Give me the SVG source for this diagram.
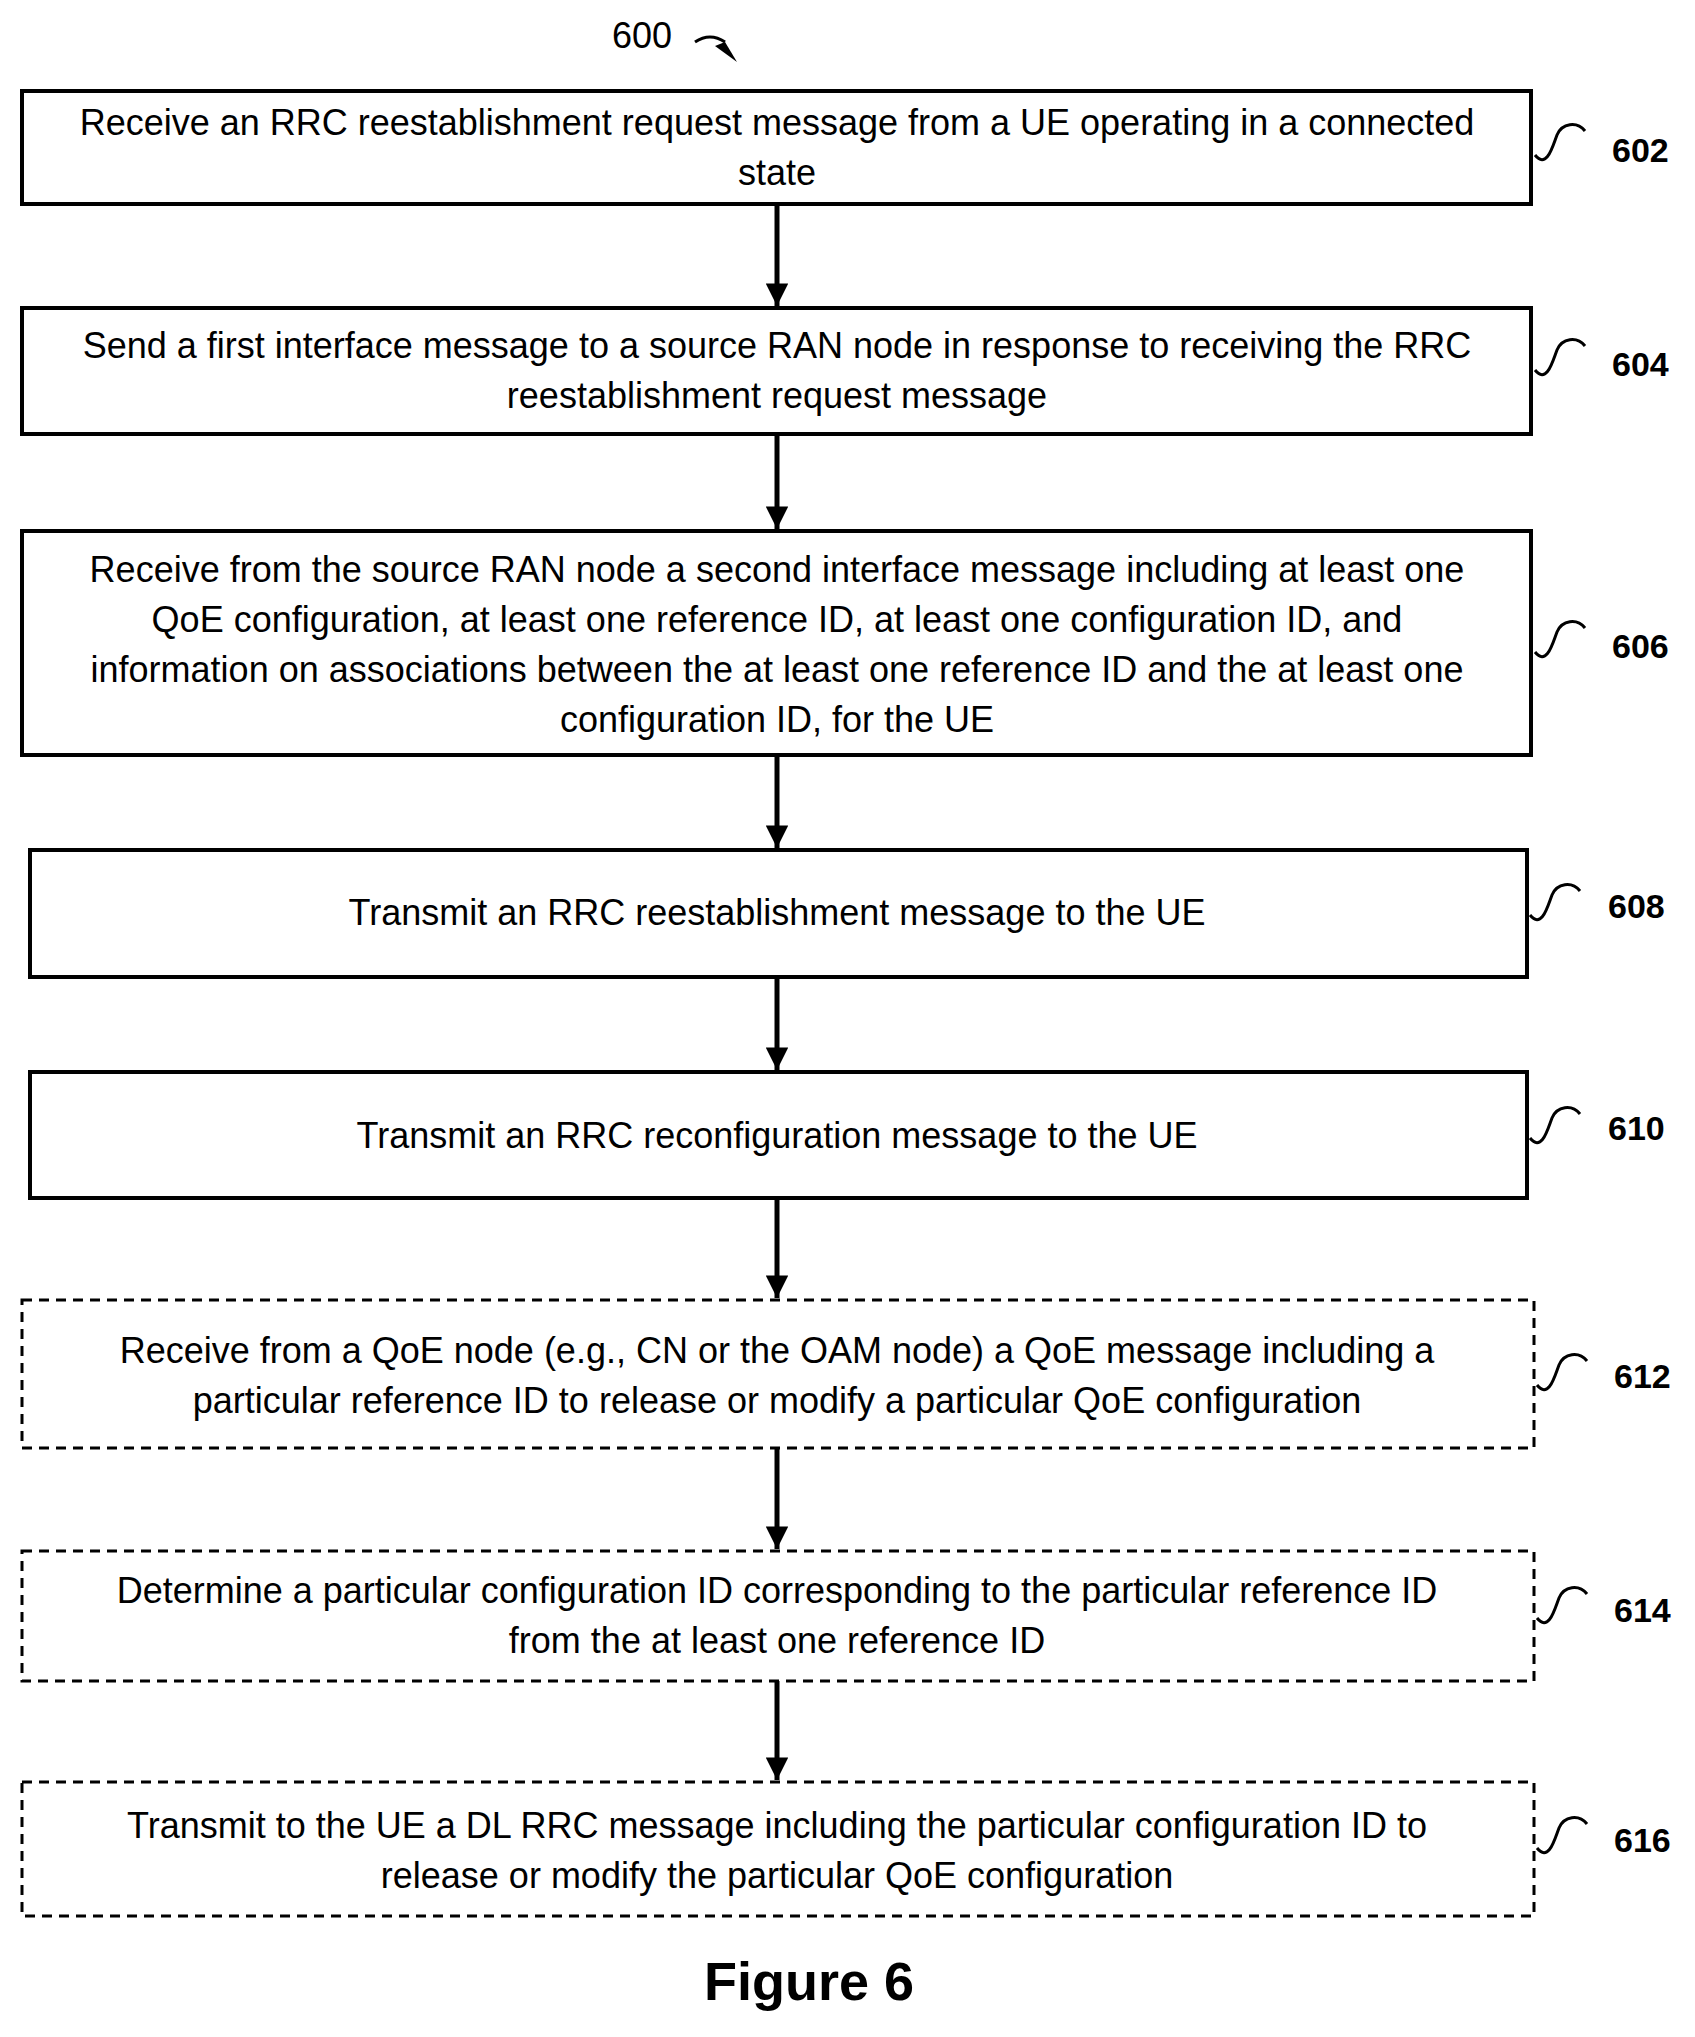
<svg xmlns="http://www.w3.org/2000/svg" width="1695" height="2037" viewBox="0 0 1695 2037">
<style>
text{font-family:"Liberation Sans","Open Sans",sans-serif;fill:#000}
.t{font-size:36px;text-anchor:middle}
.n{font-size:34px;font-weight:bold}
.b{fill:#fff;stroke:#000;stroke-width:4}
.d{fill:#fff;stroke:#000;stroke-width:3;stroke-dasharray:10 7}
.c{stroke:#000;stroke-width:5;fill:none}
.s{stroke:#000;stroke-width:3;fill:none}
</style>
<defs><marker id="a" viewBox="0 0 10 10" refX="10" refY="5" markerWidth="5" markerHeight="4.5" orient="auto" markerUnits="strokeWidth"><path d="M0,0L10,5L0,10z"/></marker></defs>
<rect width="1695" height="2037" fill="#fff"/>
<g id="label600"><text x="612" y="48" style="font-size:36px">600</text><path d="M695,42 q15,-10 30,0" class="s"/><path d="M725,42 l-10,4 l22,16 z"/></g>
<g id="connectors">
<line x1="777" y1="204" x2="777" y2="306" class="c" marker-end="url(#a)"/>
<line x1="777" y1="434" x2="777" y2="529" class="c" marker-end="url(#a)"/>
<line x1="777" y1="755" x2="777" y2="848" class="c" marker-end="url(#a)"/>
<line x1="777" y1="977" x2="777" y2="1070" class="c" marker-end="url(#a)"/>
<line x1="777" y1="1198" x2="777" y2="1298" class="c" marker-end="url(#a)"/>
<line x1="777" y1="1448" x2="777" y2="1549" class="c" marker-end="url(#a)"/>
<line x1="777" y1="1681" x2="777" y2="1780" class="c" marker-end="url(#a)"/>
</g>
<g id="n602"><rect x="22" y="91" width="1509" height="113" class="b"/><text class="t" x="777" y="135">Receive an RRC reestablishment request message from a UE operating in a connected</text><text class="t" x="777" y="185">state</text><path d="M1535,155 c12,15 18,-10 22,-20 c5,-12 20,-14 28,-4" class="s"/><text x="1612" y="162" class="n">602</text></g>
<g id="n604"><rect x="22" y="308" width="1509" height="126" class="b"/><text class="t" x="777" y="358">Send a first interface message to a source RAN node in response to receiving the RRC</text><text class="t" x="777" y="408">reestablishment request message</text><path d="M1535,370 c12,15 18,-10 22,-20 c5,-12 20,-14 28,-4" class="s"/><text x="1612" y="376" class="n">604</text></g>
<g id="n606"><rect x="22" y="531" width="1509" height="224" class="b"/><text class="t" x="777" y="582">Receive from the source RAN node a second interface message including at least one</text><text class="t" x="777" y="632">QoE configuration, at least one reference ID, at least one configuration ID, and</text><text class="t" x="777" y="682">information on associations between the at least one reference ID and the at least one</text><text class="t" x="777" y="732">configuration ID, for the UE</text><path d="M1535,652 c12,15 18,-10 22,-20 c5,-12 20,-14 28,-4" class="s"/><text x="1612" y="658" class="n">606</text></g>
<g id="n608"><rect x="30" y="850" width="1497" height="127" class="b"/><text class="t" x="777" y="925">Transmit an RRC reestablishment message to the UE</text><path d="M1530,915 c12,15 18,-10 22,-20 c5,-12 20,-14 28,-4" class="s"/><text x="1608" y="918" class="n">608</text></g>
<g id="n610"><rect x="30" y="1072" width="1497" height="126" class="b"/><text class="t" x="777" y="1148">Transmit an RRC reconfiguration message to the UE</text><path d="M1530,1138 c12,15 18,-10 22,-20 c5,-12 20,-14 28,-4" class="s"/><text x="1608" y="1140" class="n">610</text></g>
<g id="n612"><rect x="22" y="1300" width="1512" height="148" class="d"/><text class="t" x="777" y="1363">Receive from a QoE node (e.g., CN or the OAM node) a QoE message including a</text><text class="t" x="777" y="1413">particular reference ID to release or modify a particular QoE configuration</text><path d="M1537,1385 c12,15 18,-10 22,-20 c5,-12 20,-14 28,-4" class="s"/><text x="1614" y="1388" class="n">612</text></g>
<g id="n614"><rect x="22" y="1551" width="1512" height="130" class="d"/><text class="t" x="777" y="1603">Determine a particular configuration ID corresponding to the particular reference ID</text><text class="t" x="777" y="1653">from the at least one reference ID</text><path d="M1537,1618 c12,15 18,-10 22,-20 c5,-12 20,-14 28,-4" class="s"/><text x="1614" y="1622" class="n">614</text></g>
<g id="n616"><rect x="22" y="1782" width="1512" height="134" class="d"/><text class="t" x="777" y="1838">Transmit to the UE a DL RRC message including the particular configuration ID to</text><text class="t" x="777" y="1888">release or modify the particular QoE configuration</text><path d="M1537,1848 c12,15 18,-10 22,-20 c5,-12 20,-14 28,-4" class="s"/><text x="1614" y="1852" class="n">616</text></g>
<text x="809" y="2000" style="font-size:54px;font-weight:bold;text-anchor:middle">Figure 6</text>
</svg>
